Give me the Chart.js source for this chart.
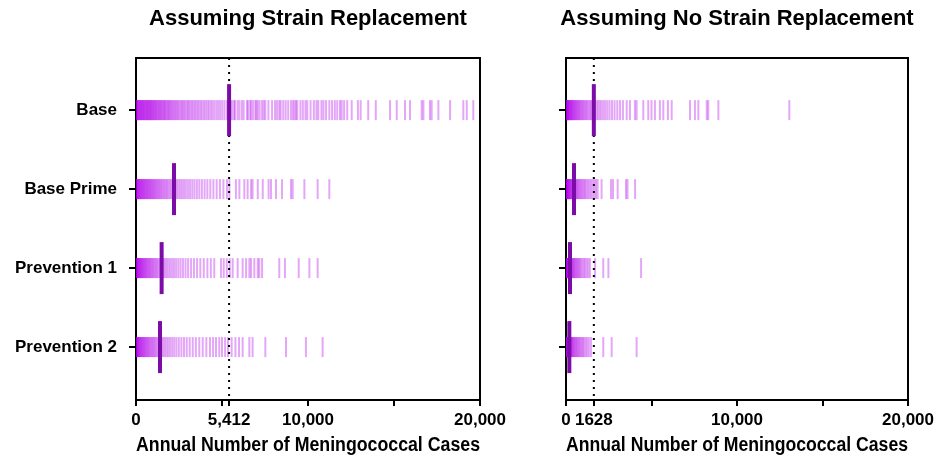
<!DOCTYPE html>
<html>
<head>
<meta charset="utf-8">
<script src="https://cdn.jsdelivr.net/npm/chart.js@4"></script>
<style>
  body { margin: 0; background: #fff; }
  .wrap { position: absolute; top: 0; height: 457px; }
  #w1 { left: 0; width: 616px; }
  #w2 { left: 528px; width: 418px; }
</style>
</head>
<body>
<div class="wrap" id="w1"><canvas id="left"></canvas></div>
<div class="wrap" id="w2"><canvas id="right"></canvas></div>
<script>
// rows, top to bottom
let rowLabels = ["Base", "Base Prime", "Prevention 1", "Prevention 2"];

// simulated annual cases, assuming strain replacement
let leftBase = [0, 15, 30, 50, 70, 95, 120, 140, 170, 200, 225, 250, 280, 310, 335, 365, 390, 420, 450, 480, 505, 540, 570, 600, 635, 660, 695, 720, 755, 790, 820, 855, 880, 915, 950, 985,
  1020, 1060, 1090, 1130, 1170, 1200, 1245, 1290, 1330, 1370, 1410, 1455, 1500, 1540, 1590, 1630, 1680, 1720, 1770, 1820, 1870, 1920, 1970, 2030, 2080, 2140, 2200, 2260, 2320, 2390, 2450,
  2520, 2590, 2660, 2720, 2800, 2870, 2950, 3020, 3100, 3170, 3260, 3340, 3420, 3510, 3590, 3680, 3770, 3860, 3960, 4050, 4150, 4240, 4350, 4450, 4560, 4680, 4790, 4900, 5020, 5150, 5290,
  5480, 5580, 5700, 5760, 5900, 6010, 6150, 6260, 6450, 6520, 6640, 6700, 6810, 6940, 7000, 7080, 7190, 7330, 7430, 7520, 7700, 7910, 8080, 8200, 8330, 8410, 8560, 8700, 8850, 9010, 9120, 9210, 9300, 9380, 9560, 9700, 9850, 9960, 10150, 10340, 10490, 10600, 10780, 10900, 11050, 11240, 11400, 11560, 11700, 11860, 11960, 12100, 12280, 12540,
  12900, 13060, 13500, 13940, 14770, 15160, 15640, 15930, 16610, 16710, 17090, 17190, 17580, 18260, 19030, 19230, 19610];
let leftBasePrime = [0, 15, 30, 50, 75, 95, 120, 150, 175, 200, 230, 260, 290, 320, 350, 385, 415, 450, 480, 515, 550, 590, 625, 660, 700, 740, 780, 820, 865, 905, 950, 995,
  1040, 1090, 1140, 1190, 1240, 1300, 1350, 1410, 1470, 1530, 1600, 1660, 1730, 1800, 1880, 1950, 2030, 2120, 2200, 2290, 2380, 2480, 2580, 2680, 2790, 2900, 3020, 3140, 3270, 3400, 3540, 3680, 3830, 3990, 4150, 4320, 4500, 4690, 4880, 5080, 5290, 5430,
  5810, 6010, 6300, 6490, 6690, 6780, 7080, 7370, 7710, 7850, 8140, 8490, 9010, 9110, 9790, 10560, 11240];
let leftPrev1 = [0, 10, 25, 40, 55, 75, 95, 115, 140, 160, 185, 210, 235, 260, 290, 320, 350, 380, 410, 445, 480, 515, 550, 590, 630, 670, 715, 760, 805, 850, 900, 950,
  1000, 1060, 1120, 1180, 1240, 1310, 1380, 1450, 1530, 1610, 1700, 1790, 1890, 1990, 2100, 2210, 2330, 2460, 2590, 2730, 2880, 3030, 3200, 3370, 3550, 3740, 3940, 4150, 4350, 4550,
  4940, 5100, 5280, 5450, 5620, 5910, 6200, 6400, 6590, 6690, 6880, 7080, 7170, 7330, 8330, 8660, 9460, 10080, 10560];
let leftPrev2 = [0, 10, 25, 40, 60, 80, 100, 120, 145, 170, 195, 220, 250, 280, 310, 340, 375, 410, 445, 480, 520, 560, 600, 645, 690, 735, 785, 835, 890, 945,
  1000, 1060, 1120, 1190, 1260, 1330, 1410, 1490, 1580, 1670, 1770, 1870, 1980, 2100, 2220, 2350, 2490, 2640, 2790, 2950, 3120, 3300, 3480, 3680, 3880, 4090, 4300, 4480, 4650,
  4840, 5000, 5180, 5350, 5560, 5780, 5990, 6200, 6590, 6780, 7520, 8720, 9880, 10850];

// simulated annual cases, assuming no strain replacement
let rightBase = [0, 10, 20, 35, 50, 65, 80, 100, 115, 135, 155, 175, 200, 225, 250, 275, 300, 330, 360, 390, 420, 455, 490, 525, 560, 600, 640, 680, 720, 765, 810, 860, 910, 960,
  1010, 1070, 1130, 1190, 1250, 1320, 1390, 1460, 1540, 1620, 1700, 1790, 1880, 1980, 2080, 2190, 2300, 2420, 2550, 2690, 2840, 3000, 3160, 3330,
  3550, 3740, 4030, 4130, 4520, 4810, 5000, 5200, 5490, 5690, 5960, 6180, 7250, 7540, 7740, 8230, 8320, 8910, 13060];
let rightBasePrime = [0, 5, 15, 25, 40, 55, 70, 85, 100, 120, 140, 160, 180, 205, 230, 255, 280, 310, 340, 370, 400, 435, 470, 510, 550, 595, 640, 690, 740, 795, 850, 910, 975,
  1040, 1110, 1190, 1270, 1360, 1450, 1550, 1650, 1750, 1850, 2080, 2630, 2750, 3020, 3510, 3600, 4040];
let rightPrev1 = [0, 5, 15, 25, 35, 45, 60, 75, 90, 105, 120, 140, 160, 180, 200, 225, 250, 275, 300, 330, 360, 395, 430, 470, 510, 555, 600, 650, 700, 760, 820, 890, 960,
  1040, 1120, 1210, 1300, 1400, 1700, 2180, 2480, 4390];
let rightPrev2 = [0, 5, 15, 25, 35, 50, 65, 80, 95, 110, 130, 150, 170, 190, 215, 240, 265, 290, 320, 350, 385, 420, 460, 500, 545, 590, 640, 690, 745, 800, 860, 925, 995,
  1070, 1150, 1240, 1340, 1460, 2180, 2670, 4130];

// medians per row
let leftMedians = [5412, 2210, 1490, 1395];
let rightMedians = [1628, 468, 234, 195];

// x tick values and labels
let leftTicks = [0, 5000, 5412, 10000, 15000, 20000];
let leftTickLabels = ["0", "", "5,412", "10,000", "", "20,000"];
let rightTicks = [0, 1628, 5000, 10000, 15000, 20000];
let rightTickLabels = ["0", "1628", "", "10,000", "", "20,000"];

let stripColor = "rgba(178, 0, 232, 0.35)";
let medianColor = "#7c0ca8";
let fontFam = "'Liberation Sans', Arial, sans-serif";

let boxPlugin = {
  id: "box",
  afterDatasetsDraw(chart) {
    let a = chart.chartArea, c = chart.ctx;
    c.save();
    c.strokeStyle = "#000";
    c.lineWidth = 2;
    c.beginPath();
    c.moveTo(a.left, a.top);
    c.lineTo(a.right, a.top);
    c.lineTo(a.right, a.bottom);
    c.stroke();
    c.restore();
  },
};

function makeChart(id, title, series, medians, ref, ticks, tickLabels, sideWidth, showRowLabels) {
  let datasets = [
    {
      data: medians.map((v, i) => ({ x: v, y: i })),
      pointStyle: "line",
      pointRadius: 26,
      pointRotation: 90,
      pointBorderWidth: 4,
      pointBorderColor: medianColor,
      pointBackgroundColor: medianColor,
      showLine: false,
    },
    {
      type: "line",
      data: [{ x: ref, y: -0.66 }, { x: ref, y: 3.67 }],
      borderColor: "#000",
      borderWidth: 2,
      borderDash: [2, 5],
      pointRadius: 0,
      fill: false,
    },
  ];
  series.forEach((vals, i) => {
    datasets.push({
      data: vals.map((v) => ({ x: v, y: i })),
      pointStyle: "line",
      pointRadius: 10,
      pointRotation: 90,
      pointBorderWidth: 2,
      pointBorderColor: stripColor,
      pointBackgroundColor: stripColor,
      showLine: false,
    });
  });

  return new Chart(document.getElementById(id).getContext("2d"), {
    type: "scatter",
    data: { datasets: datasets },
    options: {
      responsive: true,
      maintainAspectRatio: false,
      animation: false,
      events: [],
      layout: { padding: 0 },
      plugins: {
        legend: { display: false },
        tooltip: { enabled: false },
        title: {
          display: true,
          text: title,
          color: "#000",
          font: { family: fontFam, size: 22, weight: "bold" },
          padding: { top: 6, bottom: 25.6 },
        },
      },
      scales: {
        x: {
          type: "linear",
          min: 0,
          max: 20000,
          afterBuildTicks: (s) => { s.ticks = ticks.map((v) => ({ value: v })); },
          afterFit: (s) => { s.height = 57; },
          grid: { drawOnChartArea: false, drawTicks: true, tickLength: 6, color: "#000", lineWidth: 2 },
          border: { color: "#000", width: 2 },
          ticks: {
            autoSkip: false,
            maxRotation: 0,
            padding: 4,
            color: "#000",
            font: { family: fontFam, size: 17, weight: "bold" },
            callback: (v, i) => tickLabels[i],
          },
          title: {
            display: true,
            text: "Annual Number of Meningococcal Cases",
            color: "#000",
            font: { family: fontFam, size: 19.5, weight: "bold" },
            padding: { top: 0, bottom: 0 },
          },
        },
        y: {
          type: "linear",
          min: -0.66,
          max: 3.67,
          reverse: true,
          afterBuildTicks: (s) => { s.ticks = [0, 1, 2, 3].map((v) => ({ value: v })); },
          afterFit: (s) => { s.width = sideWidth; },
          grid: { drawOnChartArea: false, drawTicks: true, tickLength: 7, color: "#000", lineWidth: 2 },
          border: { color: "#000", width: 2 },
          ticks: {
            autoSkip: false,
            padding: 12,
            color: "#000",
            font: { family: fontFam, size: 17, weight: "bold" },
            callback: (v) => (showRowLabels ? rowLabels[v] : ""),
          },
        },
        // empty right axis so the title centres over the plot
        yPad: {
          type: "linear",
          position: "right",
          display: true,
          afterFit: (s) => { s.width = sideWidth; },
          grid: { display: false },
          border: { display: false },
          ticks: { display: false },
        },
      },
    },
    plugins: [boxPlugin],
  });
}

makeChart("left", "Assuming Strain Replacement",
  [leftBase, leftBasePrime, leftPrev1, leftPrev2], leftMedians, 5412,
  leftTicks, leftTickLabels, 136, true);
makeChart("right", "Assuming No Strain Replacement",
  [rightBase, rightBasePrime, rightPrev1, rightPrev2], rightMedians, 1628,
  rightTicks, rightTickLabels, 38, false);
</script>
</body>
</html>
